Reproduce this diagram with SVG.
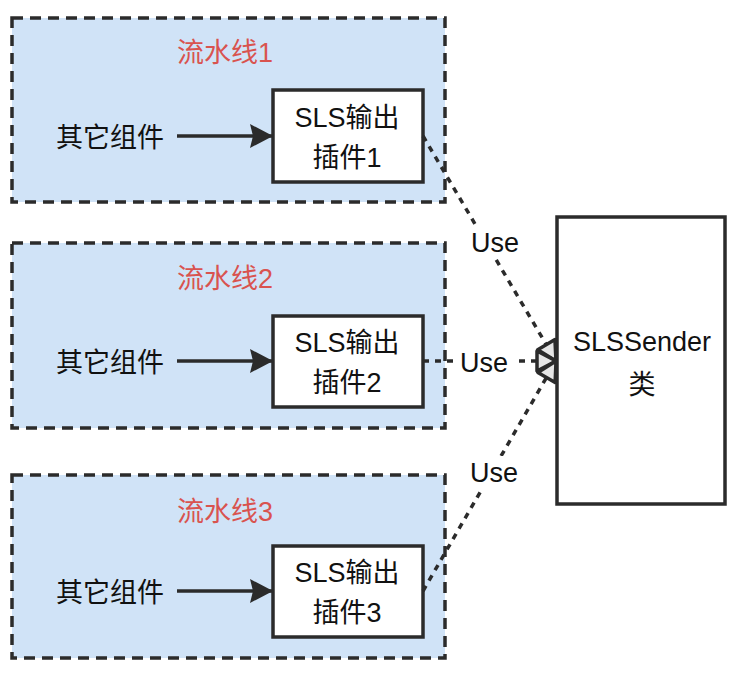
<svg xmlns="http://www.w3.org/2000/svg" width="750" height="681" viewBox="0 0 750 681">
<defs>
<style>
text{font-family:"Liberation Sans","Noto Sans CJK SC",sans-serif;font-size:27px;fill:#111;text-anchor:middle}
.title{fill:#d9534f}
.pipe{fill:#d0e3f7;stroke:#2b2b2b;stroke-width:3.5;stroke-dasharray:11 7}
.box{fill:#fff;stroke:#2b2b2b;stroke-width:3.5}
.flow{stroke:#2b2b2b;stroke-width:3.5;fill:none}
.use{stroke:#2b2b2b;stroke-width:3.5;fill:none;stroke-dasharray:6 6}
.lbl{fill:#fff;stroke:none}
</style>
<marker id="solid" markerUnits="userSpaceOnUse" markerWidth="26" markerHeight="26" refX="23" refY="12" orient="auto">
<path d="M0,0 L23,12 L0,24 L3,12 z" fill="#2b2b2b"/>
</marker>
<marker id="hollow" markerUnits="userSpaceOnUse" markerWidth="26" markerHeight="26" refX="20" refY="11" orient="auto" overflow="visible">
<path d="M1,1 L20,11 L1,21 z" fill="#e6e6e6" stroke="#2b2b2b" stroke-width="3.5" stroke-linejoin="round"/>
</marker>
</defs>

<g id="pipeline1">
<rect class="pipe" x="12" y="18" width="433" height="184"/>
<text class="title" x="225" y="62">流水线1</text>
</g>
<g id="pipeline2">
<rect class="pipe" x="12" y="243" width="433" height="185"/>
<text class="title" x="225" y="288">流水线2</text>
</g>
<g id="pipeline3">
<rect class="pipe" x="12" y="475" width="433" height="183"/>
<text class="title" x="225" y="521">流水线3</text>
</g>

<g id="other1"><text x="110" y="147">其它组件</text></g>
<g id="other2"><text x="110" y="372">其它组件</text></g>
<g id="other3"><text x="110" y="602">其它组件</text></g>

<g id="plugin1">
<rect class="box" x="273" y="90" width="150" height="92"/>
<text x="347" y="127">SLS输出</text>
<text x="347" y="167">插件1</text>
</g>
<g id="plugin2">
<rect class="box" x="273" y="316" width="150" height="91"/>
<text x="347" y="352">SLS输出</text>
<text x="347" y="392">插件2</text>
</g>
<g id="plugin3">
<rect class="box" x="273" y="546" width="150" height="91"/>
<text x="347" y="582">SLS输出</text>
<text x="347" y="622">插件3</text>
</g>

<g id="sender">
<rect class="box" x="557" y="217" width="168" height="287"/>
<text x="642" y="351">SLSSender</text>
<text x="642" y="394">类</text>
</g>

<g id="connectors">
<line class="flow" x1="177" y1="136" x2="273" y2="136" marker-end="url(#solid)"/>
<line class="flow" x1="177" y1="361" x2="273" y2="361" marker-end="url(#solid)"/>
<line class="flow" x1="177" y1="591" x2="273" y2="591" marker-end="url(#solid)"/>

<line class="use" x1="423" y1="136" x2="556" y2="361" marker-end="url(#hollow)"/>
<line class="use" x1="423" y1="361" x2="556" y2="361" marker-end="url(#hollow)"/>
<line class="use" x1="423" y1="591" x2="556" y2="361" marker-end="url(#hollow)"/>

<rect class="lbl" x="468" y="226" width="54" height="32"/>
<text x="495" y="252">Use</text>
<rect class="lbl" x="456" y="346" width="58" height="32"/>
<text x="484" y="372">Use</text>
<rect class="lbl" x="466" y="456" width="56" height="32"/>
<text x="494" y="482">Use</text>
</g>
</svg>
